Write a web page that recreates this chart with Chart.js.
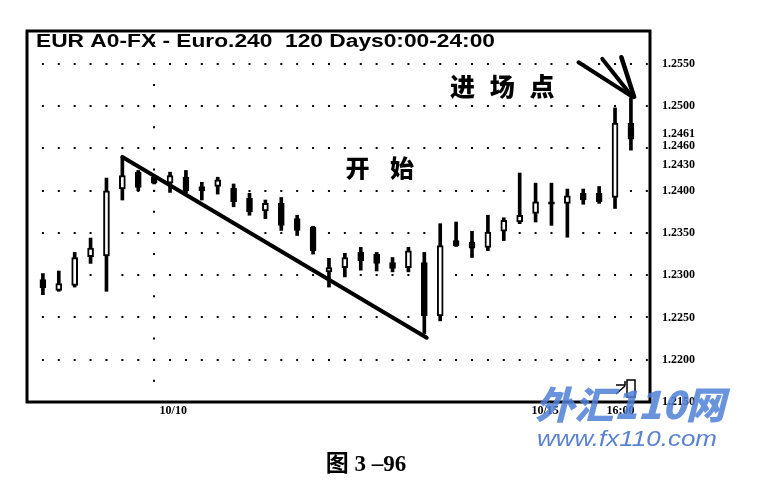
<!DOCTYPE html>
<html>
<head>
<meta charset="utf-8">
<script src="https://cdn.jsdelivr.net/npm/chart.js@4.4.1/dist/chart.umd.min.js"></script>
<style>
    html, body { margin: 0; padding: 0; background: #fff; }
    #wrap { width: 778px; height: 498px; }
</style>
</head>
<body>
<div id="wrap"><canvas id="chart" width="778" height="498"></canvas></div>
<script>
// 4-hour EUR candles
const opens  = [1.2295, 1.2282, 1.2288, 1.2322, 1.2323, 1.2402, 1.2422, 1.2416, 1.2409, 1.2416, 1.2405, 1.2405, 1.2403, 1.2391, 1.2376, 1.2385, 1.2367, 1.2357, 1.2304, 1.2309, 1.2327, 1.2325, 1.2315, 1.2309, 1.2315, 1.2252, 1.2341, 1.2339, 1.2333, 1.2352, 1.2363, 1.2373, 1.2387, 1.2385, 1.2397, 1.2397, 1.2392, 1.2480];
const highs  = [1.2302, 1.2305, 1.2327, 1.2344, 1.2415, 1.2440, 1.2424, 1.2417, 1.2422, 1.2424, 1.2410, 1.2416, 1.2408, 1.2397, 1.2389, 1.2392, 1.2371, 1.2358, 1.2320, 1.2326, 1.2333, 1.2327, 1.2321, 1.2333, 1.2327, 1.2361, 1.2363, 1.2352, 1.2371, 1.2368, 1.2421, 1.2409, 1.2409, 1.2402, 1.2402, 1.2405, 1.2498, 1.2510];
const lows   = [1.2277, 1.2281, 1.2286, 1.2314, 1.2281, 1.2389, 1.2400, 1.2408, 1.2398, 1.2397, 1.2389, 1.2396, 1.2381, 1.2371, 1.2367, 1.2353, 1.2347, 1.2325, 1.2286, 1.2298, 1.2306, 1.2305, 1.2304, 1.2304, 1.2231, 1.2246, 1.2334, 1.2321, 1.2329, 1.2341, 1.2361, 1.2363, 1.2359, 1.2345, 1.2384, 1.2385, 1.2379, 1.2448];
const closes = [1.2285, 1.2290, 1.2321, 1.2332, 1.2400, 1.2418, 1.2404, 1.2409, 1.2418, 1.2400, 1.2400, 1.2413, 1.2387, 1.2375, 1.2385, 1.2359, 1.2353, 1.2329, 1.2309, 1.2321, 1.2317, 1.2314, 1.2308, 1.2329, 1.2252, 1.2335, 1.2335, 1.2332, 1.2351, 1.2365, 1.2371, 1.2387, 1.2384, 1.2394, 1.2389, 1.2387, 1.2480, 1.2461];

// right axis labels
const priceTicks  = [1.2150, 1.2200, 1.2250, 1.2300, 1.2350, 1.2400, 1.2430, 1.2450, 1.2460, 1.2500, 1.2550];
const priceLabels = ["1.2150", "1.2200", "1.2250", "1.2300", "1.2350", "1.2400", "1.2430", "", ["1.2461", "1.2460"], "1.2500", "1.2550"];

// bottom axis: day boundary line and date labels (candle index units)
const dayLines   = [7];
const dateTicks  = [8.2, 31.6, 36.35];
const dateLabels = ["10/10", "10/15", "16:00"];

// trend line (candle index, price)
const trendX = [5, 24.15];
const trendY = [1.2440, 1.2226];

// the three arrow strokes pointing at the entry candle
const arrowFromX = [33.7, 35.2, 36.4];
const arrowFromY = [1.2552, 1.2556, 1.2558];
const arrowToX = [37.1, 37.1, 37.2];
const arrowToY = [1.2511, 1.2511, 1.2511];

const titleText = "EUR A0-FX - Euro.240  120 Days0:00-24:00";
const startNote = ["开", "始"];
const entryNote = ["进", "场", "点"];
const caption = "图 3 –96";

const idx = opens.map((_, i) => i);

function xStep(chart) {
    const xs = chart.scales.x;
    const s = xs ? xs.getPixelForValue(1) - xs.getPixelForValue(0) : NaN;
    return isFinite(s) && s > 2 ? s : 15.9;
}
function yStep(chart) {
    const ys = chart.scales.y;
    const s = ys ? ys.getPixelForValue(1.2475) - ys.getPixelForValue(1.25) : NaN;
    return isFinite(s) && s > 2 ? s : 21.1;
}

const datasets = [
    {
        type: "line",
        data: trendX.map((x, i) => ({ x, y: trendY[i] })),
        borderColor: "#000",
        borderWidth: 4,
        borderCapStyle: "round",
        pointRadius: 0
    },
    ...arrowFromX.map((x, i) => ({
        type: "line",
        data: [{ x, y: arrowFromY[i] }, { x: arrowToX[i], y: arrowToY[i] }],
        borderColor: "#000",
        borderWidth: i === 2 ? 4.5 : 4,
        borderCapStyle: "round",
        pointRadius: 0
    })),
    {
        type: "bar",
        data: idx.map(i => ({ x: i, y: [opens[i], closes[i]] })),
        backgroundColor: idx.map(i => closes[i] >= opens[i] ? "#fff" : "#000"),
        borderColor: "#000",
        borderWidth: 2,
        borderSkipped: false,
        barThickness: 6,
        grouped: false
    },
    {
        type: "bar",
        data: idx.map(i => ({ x: i, y: [lows[i], highs[i]] })),
        backgroundColor: "#000",
        borderWidth: 0,
        barThickness: 3,
        grouped: false
    }
];

const decorations = {
    id: "decorations",
    afterDraw(chart) {
        const ctx = chart.ctx;
        const a = chart.chartArea;
        const xs = chart.scales.x, ys = chart.scales.y;
        ctx.save();

        // frame
        ctx.strokeStyle = "#000";
        ctx.lineWidth = 3;
        ctx.strokeRect(a.left, a.top, a.right - a.left, a.bottom - a.top);

        // title inside the frame
        ctx.fillStyle = "#000";
        ctx.font = "bold 18px 'Liberation Sans', Arial, sans-serif";
        const tw = ctx.measureText(titleText).width;
        ctx.save();
        ctx.translate(a.left + 9, a.top + 16);
        ctx.scale(459 / tw, 1);
        ctx.fillText(titleText, 0, 0);
        ctx.restore();

        // notes
        ctx.textAlign = "center";
        ctx.textBaseline = "middle";
        ctx.font = "900 24px 'Noto Sans CJK SC', sans-serif";
        const sy = ys.getPixelForValue(1.2427);
        startNote.forEach((ch, i) => ctx.fillText(ch, xs.getPixelForValue(19.8 + i * 2.8), sy));
        ctx.font = "900 25px 'Noto Sans CJK SC', sans-serif";
        const ey = ys.getPixelForValue(1.2523);
        entryNote.forEach((ch, i) => ctx.fillText(ch, xs.getPixelForValue(26.4 + i * 2.5), ey));

        // small corner icon
        ctx.lineWidth = 1.5;
        ctx.strokeRect(627, 380, 8, 17);
        ctx.beginPath();
        ctx.moveTo(616, 385); ctx.lineTo(625, 385); ctx.lineTo(625, 381);
        ctx.moveTo(616, 394); ctx.lineTo(625, 386);
        ctx.stroke();

        // caption
        ctx.font = "bold 23px 'Liberation Serif', 'Noto Sans CJK SC', serif";
        ctx.textBaseline = "alphabetic";
        ctx.fillText(caption, 366, 471);

        // watermark
        ctx.globalAlpha = 0.85;
        ctx.fillStyle = "#4f80d6";
        ctx.font = "italic 900 38px 'Noto Sans CJK SC', sans-serif";
        ctx.textAlign = "left";
        const w1 = ctx.measureText("外汇110网").width;
        ctx.save();
        ctx.translate(535, 419);
        ctx.scale(190 / w1, 1);
        ctx.fillText("外汇110网", 0, 0);
        ctx.restore();
        ctx.fillStyle = "#3d6cc8";
        ctx.font = "italic 22px 'Liberation Sans', Arial, sans-serif";
        const w2 = ctx.measureText("www.fx110.com").width;
        ctx.save();
        ctx.translate(537, 446);
        ctx.scale(180 / w2, 1);
        ctx.fillText("www.fx110.com", 0, 0);
        ctx.restore();

        ctx.restore();
    }
};

new Chart(document.getElementById("chart"), {
    type: "bar",
    data: { datasets },
    options: {
        responsive: false,
        animation: false,
        devicePixelRatio: 1,
        layout: { padding: { left: 27, top: 31, right: 0, bottom: 0 } },
        plugins: { legend: { display: false }, tooltip: { enabled: false } },
        scales: {
            x: {
                type: "linear",
                min: -1,
                max: 38.2,
                offset: false,
                afterFit: (s) => { s.height = 96; },
                afterBuildTicks: (s) => {
                    s.ticks = dayLines.concat(dateTicks).map(v => ({ value: v }));
                },
                ticks: {
                    autoSkip: false,
                    maxRotation: 0,
                    padding: 2,
                    color: "#000",
                    font: { family: "'Liberation Serif', serif", size: 12, weight: "bold" },
                    callback: (v) => {
                        const k = dateTicks.indexOf(v);
                        return k >= 0 ? dateLabels[k] : "";
                    }
                },
                grid: {
                    drawTicks: false,
                    offset: false,
                    lineWidth: 2,
                    color: (c) => c.tick && dayLines.includes(c.tick.value) ? "#000" : "rgba(0,0,0,0)"
                },
                border: {
                    display: false,
                    dash: (c) => [2, yStep(c.chart) - 2],
                    dashOffset: (c) => {
                        const s = yStep(c.chart);
                        const p = c.chart.scales.y ? c.chart.scales.y.getPixelForValue(1.25) : 0;
                        return (((c.chart.chartArea.top - p + 1) % s) + s) % s;
                    }
                }
            },
            y: {
                type: "linear",
                position: "right",
                min: 1.2150,
                max: 1.2589,
                afterFit: (s) => { s.width = 128; },
                afterBuildTicks: (s) => {
                    s.ticks = priceTicks.map(v => ({ value: v }));
                },
                ticks: {
                    autoSkip: false,
                    padding: 12,
                    color: "#000",
                    font: { family: "'Liberation Serif', serif", size: 12, weight: "bold", lineHeight: 1.0 },
                    callback: (v, i) => priceLabels[i]
                },
                grid: {
                    drawTicks: false,
                    lineWidth: 2,
                    color: (c) => {
                        if (!c.tick) return "rgba(0,0,0,0)";
                        const m = Math.round(c.tick.value * 10000);
                        return m % 50 === 0 && m !== 12150 ? "#000" : "rgba(0,0,0,0)";
                    }
                },
                border: {
                    display: false,
                    dash: (c) => [2, xStep(c.chart) - 2],
                    dashOffset: (c) => {
                        const s = xStep(c.chart);
                        const p = c.chart.scales.x ? c.chart.scales.x.getPixelForValue(0) : 0;
                        return (((c.chart.chartArea.left - p + 1) % s) + s) % s;
                    }
                }
            }
        }
    },
    plugins: [decorations]
});
</script>
</body>
</html>
